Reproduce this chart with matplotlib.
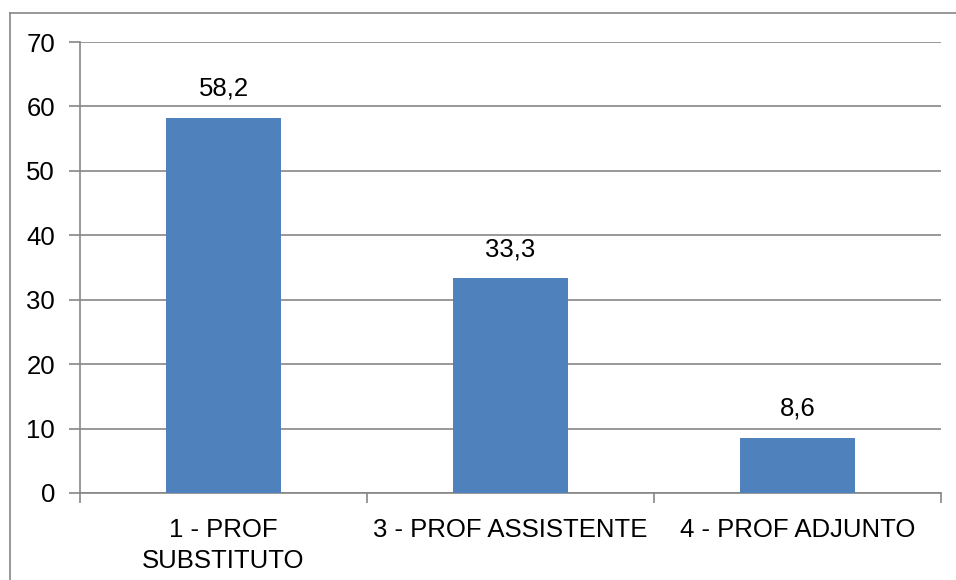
import matplotlib.pyplot as plt
from matplotlib.lines import Line2D

# Data
categories = ['1 - PROF\nSUBSTITUTO', '3 - PROF ASSISTENTE', '4 - PROF ADJUNTO']
values = [58.2, 33.3, 8.6]
labels = ['58,2', '33,3', '8,6']
yticks = [0, 10, 20, 30, 40, 50, 60, 70]

plt.rcParams['font.family'] = ['Liberation Sans', 'DejaVu Sans']
fs = 18.5

fig = plt.figure(figsize=(9.56, 5.80), dpi=100)
ax = fig.add_axes([80 / 956, 1 - 493 / 580, 861 / 956, 451 / 580])

grid_col = '#868686'
bar_col = '#4F81BD'

x = range(len(categories))
ax.bar(x, values, width=0.4, color=bar_col, zorder=3)
for xi, v, lab in zip(x, values, labels):
    ax.annotate(lab, (xi, v), xytext=(0, 16), textcoords='offset points',
                ha='center', va='baseline', fontsize=fs)

ax.set_xlim(-0.5, 2.5)
ax.set_ylim(0, 70)
ax.set_yticks(yticks)
ax.set_yticklabels([str(t) for t in yticks], fontsize=fs)
ax.yaxis.grid(True, color=grid_col, linewidth=1.2, zorder=0)
ax.tick_params(axis='y', length=8, width=1.2, color=grid_col, pad=10)

# category labels centered, ticks at category boundaries
ax.set_xticks([-0.5, 0.5, 1.5, 2.5])
ax.set_xticklabels([])
ax.tick_params(axis='x', length=7, width=1.2, color=grid_col)
for xi, c in zip(x, categories):
    ax.annotate(c, (xi, 0), xytext=(0, -18), textcoords='offset points',
                ha='center', va='top', fontsize=fs, linespacing=1.35)

for s in ['top', 'right']:
    ax.spines[s].set_visible(False)
for s in ['left', 'bottom']:
    ax.spines[s].set_color(grid_col)
    ax.spines[s].set_linewidth(1.2)

# outer chart border (top and left visible)
bx, by = 10 / 956, 1 - 13 / 580
fig.add_artist(Line2D([bx, 1.01], [by, by], color=grid_col, lw=1.2, transform=fig.transFigure))
fig.add_artist(Line2D([bx, bx], [-0.01, by], color=grid_col, lw=1.2, transform=fig.transFigure))

fig.savefig('out.png', dpi=100)
